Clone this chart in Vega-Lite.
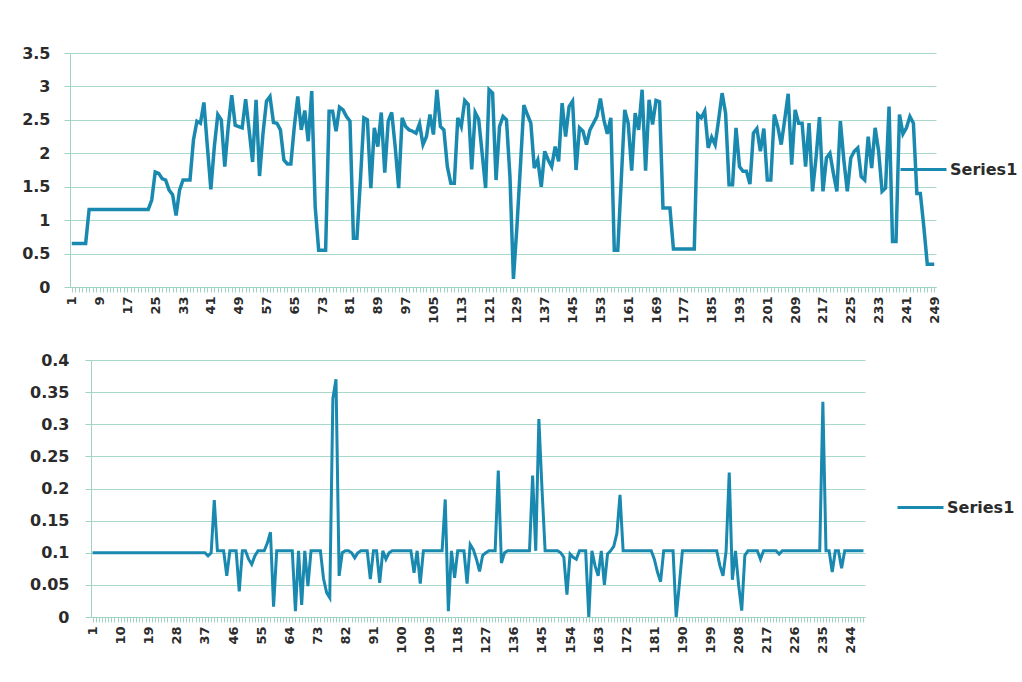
{
 "$schema": "https://vega.github.io/schema/vega-lite/v6.json",
 "background": "#ffffff",
 "padding": {"left": 21, "top": 45, "right": 5, "bottom": 5},
 "spacing": 28,
 "datasets": {
  "top": [
{"i":1,"v":0.65},{"i":2,"v":0.65},{"i":3,"v":0.65},{"i":4,"v":0.65},{"i":5,"v":0.65},
{"i":6,"v":1.16},{"i":7,"v":1.16},{"i":8,"v":1.16},{"i":9,"v":1.16},{"i":10,"v":1.16},{"i":11,"v":1.16},{"i":12,"v":1.16},{"i":13,"v":1.16},{"i":14,"v":1.16},{"i":15,"v":1.16},{"i":16,"v":1.16},{"i":17,"v":1.16},{"i":18,"v":1.16},{"i":19,"v":1.16},{"i":20,"v":1.16},{"i":21,"v":1.16},{"i":22,"v":1.16},{"i":23,"v":1.16},
{"i":24,"v":1.3},{"i":25,"v":1.72},{"i":26,"v":1.7},{"i":27,"v":1.62},{"i":28,"v":1.6},{"i":29,"v":1.45},{"i":30,"v":1.38},{"i":31,"v":1.07},{"i":32,"v":1.45},{"i":33,"v":1.6},{"i":34,"v":1.6},{"i":35,"v":1.6},{"i":36,"v":2.2},{"i":37,"v":2.48},{"i":38,"v":2.45},{"i":39,"v":2.76},{"i":40,"v":2.1},
{"i":41,"v":1.46},{"i":42,"v":2.1},{"i":43,"v":2.58},{"i":44,"v":2.5},{"i":45,"v":1.8},{"i":46,"v":2.4},{"i":47,"v":2.87},{"i":48,"v":2.42},{"i":49,"v":2.4},{"i":50,"v":2.38},
{"i":51,"v":2.81},{"i":52,"v":2.35},{"i":53,"v":1.87},{"i":54,"v":2.8},{"i":55,"v":1.66},{"i":56,"v":2.3},{"i":57,"v":2.78},{"i":58,"v":2.85},{"i":59,"v":2.46},{"i":60,"v":2.45},
{"i":61,"v":2.35},{"i":62,"v":1.9},{"i":63,"v":1.84},{"i":64,"v":1.84},{"i":65,"v":2.4},{"i":66,"v":2.85},{"i":67,"v":2.35},{"i":68,"v":2.64},{"i":69,"v":2.18},{"i":70,"v":2.93},
{"i":71,"v":1.2},{"i":72,"v":0.55},{"i":73,"v":0.55},{"i":74,"v":0.55},{"i":75,"v":2.63},{"i":76,"v":2.63},{"i":77,"v":2.33},{"i":78,"v":2.69},{"i":79,"v":2.65},{"i":80,"v":2.55},
{"i":81,"v":2.48},{"i":82,"v":0.73},{"i":83,"v":0.73},{"i":84,"v":1.6},{"i":85,"v":2.53},{"i":86,"v":2.5},{"i":87,"v":1.48},{"i":88,"v":2.38},{"i":89,"v":2.1},{"i":90,"v":2.61},
{"i":91,"v":1.71},{"i":92,"v":2.48},{"i":93,"v":2.61},{"i":94,"v":2.1},{"i":95,"v":1.48},{"i":96,"v":2.53},{"i":97,"v":2.4},{"i":98,"v":2.35},{"i":99,"v":2.33},{"i":100,"v":2.3},
{"i":101,"v":2.44},{"i":102,"v":2.13},{"i":103,"v":2.25},{"i":104,"v":2.58},{"i":105,"v":2.28},{"i":106,"v":2.95},{"i":107,"v":2.4},{"i":108,"v":2.35},{"i":109,"v":1.8},{"i":110,"v":1.55},
{"i":111,"v":1.55},{"i":112,"v":2.53},{"i":113,"v":2.4},{"i":114,"v":2.79},{"i":115,"v":2.73},{"i":116,"v":1.76},{"i":117,"v":2.61},{"i":118,"v":2.51},{"i":119,"v":2.0},{"i":120,"v":1.48},
{"i":121,"v":2.95},{"i":122,"v":2.9},{"i":123,"v":1.6},{"i":124,"v":2.4},{"i":125,"v":2.55},{"i":126,"v":2.5},{"i":127,"v":1.65},{"i":128,"v":0.12},{"i":129,"v":0.9},{"i":130,"v":1.8},
{"i":131,"v":2.72},{"i":132,"v":2.58},{"i":133,"v":2.45},{"i":134,"v":1.78},{"i":135,"v":1.9},{"i":136,"v":1.5},{"i":137,"v":2.03},{"i":138,"v":1.9},{"i":139,"v":1.8},{"i":140,"v":2.1},
{"i":141,"v":1.88},{"i":142,"v":2.75},{"i":143,"v":2.25},{"i":144,"v":2.7},{"i":145,"v":2.78},{"i":146,"v":1.75},{"i":147,"v":2.38},{"i":148,"v":2.33},{"i":149,"v":2.13},{"i":150,"v":2.35},
{"i":151,"v":2.45},{"i":152,"v":2.55},{"i":153,"v":2.82},{"i":154,"v":2.5},{"i":155,"v":2.29},{"i":156,"v":2.53},{"i":157,"v":0.55},{"i":158,"v":0.55},{"i":159,"v":1.6},{"i":160,"v":2.65},
{"i":161,"v":2.45},{"i":162,"v":1.74},{"i":163,"v":2.6},{"i":164,"v":2.35},{"i":165,"v":2.95},{"i":166,"v":1.74},{"i":167,"v":2.8},{"i":168,"v":2.43},{"i":169,"v":2.79},{"i":170,"v":2.77},
{"i":171,"v":1.18},{"i":172,"v":1.18},{"i":173,"v":1.18},{"i":174,"v":0.57},{"i":175,"v":0.57},{"i":176,"v":0.57},{"i":177,"v":0.57},{"i":178,"v":0.57},{"i":179,"v":0.57},{"i":180,"v":0.57},
{"i":181,"v":2.58},{"i":182,"v":2.53},{"i":183,"v":2.63},{"i":184,"v":2.08},{"i":185,"v":2.24},{"i":186,"v":2.13},{"i":187,"v":2.5},{"i":188,"v":2.9},{"i":189,"v":2.6},{"i":190,"v":1.53},
{"i":191,"v":1.53},{"i":192,"v":2.38},{"i":193,"v":1.8},{"i":194,"v":1.73},{"i":195,"v":1.73},{"i":196,"v":1.54},{"i":197,"v":2.3},{"i":198,"v":2.37},{"i":199,"v":2.03},{"i":200,"v":2.37},
{"i":201,"v":1.6},{"i":202,"v":1.6},{"i":203,"v":2.58},{"i":204,"v":2.4},{"i":205,"v":2.13},{"i":206,"v":2.5},{"i":207,"v":2.89},{"i":208,"v":1.83},{"i":209,"v":2.65},{"i":210,"v":2.45},
{"i":211,"v":2.45},{"i":212,"v":1.8},{"i":213,"v":2.45},{"i":214,"v":1.43},{"i":215,"v":1.93},{"i":216,"v":2.54},{"i":217,"v":1.43},{"i":218,"v":1.93},{"i":219,"v":2.0},{"i":220,"v":1.7},
{"i":221,"v":1.43},{"i":222,"v":2.48},{"i":223,"v":1.9},{"i":224,"v":1.43},{"i":225,"v":1.93},{"i":226,"v":2.03},{"i":227,"v":2.08},{"i":228,"v":1.65},{"i":229,"v":1.6},{"i":230,"v":2.25},
{"i":231,"v":1.78},{"i":232,"v":2.38},{"i":233,"v":2.03},{"i":234,"v":1.43},{"i":235,"v":1.48},{"i":236,"v":2.7},{"i":237,"v":0.68},{"i":238,"v":0.68},{"i":239,"v":2.58},{"i":240,"v":2.29},
{"i":241,"v":2.38},{"i":242,"v":2.55},{"i":243,"v":2.45},{"i":244,"v":1.4},{"i":245,"v":1.4},{"i":246,"v":0.9},{"i":247,"v":0.34},{"i":248,"v":0.34},{"i":249,"v":0.34}
  ],
  "bottom": [
{"i":1,"v":0.1},{"i":2,"v":0.1},{"i":3,"v":0.1},{"i":4,"v":0.1},{"i":5,"v":0.1},{"i":6,"v":0.1},{"i":7,"v":0.1},{"i":8,"v":0.1},{"i":9,"v":0.1},{"i":10,"v":0.1},
{"i":11,"v":0.1},{"i":12,"v":0.1},{"i":13,"v":0.1},{"i":14,"v":0.1},{"i":15,"v":0.1},{"i":16,"v":0.1},{"i":17,"v":0.1},{"i":18,"v":0.1},{"i":19,"v":0.1},{"i":20,"v":0.1},
{"i":21,"v":0.1},{"i":22,"v":0.1},{"i":23,"v":0.1},{"i":24,"v":0.1},{"i":25,"v":0.1},{"i":26,"v":0.1},{"i":27,"v":0.1},{"i":28,"v":0.1},{"i":29,"v":0.1},{"i":30,"v":0.1},
{"i":31,"v":0.1},{"i":32,"v":0.1},{"i":33,"v":0.1},{"i":34,"v":0.1},{"i":35,"v":0.1},{"i":36,"v":0.1},{"i":37,"v":0.1},{"i":38,"v":0.095},{"i":39,"v":0.1},{"i":40,"v":0.182},
{"i":41,"v":0.103},{"i":42,"v":0.103},{"i":43,"v":0.103},{"i":44,"v":0.064},{"i":45,"v":0.103},{"i":46,"v":0.103},{"i":47,"v":0.103},{"i":48,"v":0.04},{"i":49,"v":0.103},{"i":50,"v":0.103},
{"i":51,"v":0.09},{"i":52,"v":0.082},{"i":53,"v":0.095},{"i":54,"v":0.103},{"i":55,"v":0.103},{"i":56,"v":0.103},{"i":57,"v":0.115},{"i":58,"v":0.132},{"i":59,"v":0.016},{"i":60,"v":0.103},
{"i":61,"v":0.103},{"i":62,"v":0.103},{"i":63,"v":0.103},{"i":64,"v":0.103},{"i":65,"v":0.103},{"i":66,"v":0.009},{"i":67,"v":0.103},{"i":68,"v":0.019},{"i":69,"v":0.103},{"i":70,"v":0.048},
{"i":71,"v":0.103},{"i":72,"v":0.103},{"i":73,"v":0.103},{"i":74,"v":0.103},{"i":75,"v":0.06},{"i":76,"v":0.038},{"i":77,"v":0.03},{"i":78,"v":0.34},{"i":79,"v":0.37},{"i":80,"v":0.064},
{"i":81,"v":0.1},{"i":82,"v":0.103},{"i":83,"v":0.103},{"i":84,"v":0.1},{"i":85,"v":0.092},{"i":86,"v":0.1},{"i":87,"v":0.103},{"i":88,"v":0.103},{"i":89,"v":0.103},{"i":90,"v":0.059},
{"i":91,"v":0.103},{"i":92,"v":0.103},{"i":93,"v":0.053},{"i":94,"v":0.103},{"i":95,"v":0.09},{"i":96,"v":0.1},{"i":97,"v":0.103},{"i":98,"v":0.103},{"i":99,"v":0.103},{"i":100,"v":0.103},
{"i":101,"v":0.103},{"i":102,"v":0.103},{"i":103,"v":0.103},{"i":104,"v":0.069},{"i":105,"v":0.103},{"i":106,"v":0.052},{"i":107,"v":0.103},{"i":108,"v":0.103},{"i":109,"v":0.103},{"i":110,"v":0.103},
{"i":111,"v":0.103},{"i":112,"v":0.103},{"i":113,"v":0.103},{"i":114,"v":0.183},{"i":115,"v":0.009},{"i":116,"v":0.103},{"i":117,"v":0.061},{"i":118,"v":0.103},{"i":119,"v":0.103},{"i":120,"v":0.103},
{"i":121,"v":0.052},{"i":122,"v":0.113},{"i":123,"v":0.105},{"i":124,"v":0.09},{"i":125,"v":0.071},{"i":126,"v":0.096},{"i":127,"v":0.1},{"i":128,"v":0.103},{"i":129,"v":0.103},{"i":130,"v":0.103},
{"i":131,"v":0.228},{"i":132,"v":0.084},{"i":133,"v":0.1},{"i":134,"v":0.103},{"i":135,"v":0.103},{"i":136,"v":0.103},{"i":137,"v":0.103},{"i":138,"v":0.103},{"i":139,"v":0.103},{"i":140,"v":0.103},
{"i":141,"v":0.103},{"i":142,"v":0.22},{"i":143,"v":0.103},{"i":144,"v":0.308},{"i":145,"v":0.2},{"i":146,"v":0.103},{"i":147,"v":0.103},{"i":148,"v":0.103},{"i":149,"v":0.103},{"i":150,"v":0.103},
{"i":151,"v":0.1},{"i":152,"v":0.093},{"i":153,"v":0.035},{"i":154,"v":0.098},{"i":155,"v":0.093},{"i":156,"v":0.09},{"i":157,"v":0.103},{"i":158,"v":0.103},{"i":159,"v":0.103},{"i":160,"v":0.0},
{"i":161,"v":0.103},{"i":162,"v":0.08},{"i":163,"v":0.064},{"i":164,"v":0.103},{"i":165,"v":0.05},{"i":166,"v":0.098},{"i":167,"v":0.103},{"i":168,"v":0.11},{"i":169,"v":0.13},{"i":170,"v":0.19},
{"i":171,"v":0.103},{"i":172,"v":0.103},{"i":173,"v":0.103},{"i":174,"v":0.103},{"i":175,"v":0.103},{"i":176,"v":0.103},{"i":177,"v":0.103},{"i":178,"v":0.103},{"i":179,"v":0.103},{"i":180,"v":0.103},
{"i":181,"v":0.09},{"i":182,"v":0.07},{"i":183,"v":0.055},{"i":184,"v":0.103},{"i":185,"v":0.103},{"i":186,"v":0.103},{"i":187,"v":0.103},{"i":188,"v":0.0},{"i":189,"v":0.05},{"i":190,"v":0.103},
{"i":191,"v":0.103},{"i":192,"v":0.103},{"i":193,"v":0.103},{"i":194,"v":0.103},{"i":195,"v":0.103},{"i":196,"v":0.103},{"i":197,"v":0.103},{"i":198,"v":0.103},{"i":199,"v":0.103},{"i":200,"v":0.103},
{"i":201,"v":0.103},{"i":202,"v":0.08},{"i":203,"v":0.064},{"i":204,"v":0.103},{"i":205,"v":0.225},{"i":206,"v":0.058},{"i":207,"v":0.103},{"i":208,"v":0.05},{"i":209,"v":0.01},{"i":210,"v":0.096},
{"i":211,"v":0.103},{"i":212,"v":0.103},{"i":213,"v":0.103},{"i":214,"v":0.103},{"i":215,"v":0.09},{"i":216,"v":0.103},{"i":217,"v":0.103},{"i":218,"v":0.103},{"i":219,"v":0.103},{"i":220,"v":0.103},
{"i":221,"v":0.098},{"i":222,"v":0.103},{"i":223,"v":0.103},{"i":224,"v":0.103},{"i":225,"v":0.103},{"i":226,"v":0.103},{"i":227,"v":0.103},{"i":228,"v":0.103},{"i":229,"v":0.103},{"i":230,"v":0.103},
{"i":231,"v":0.103},{"i":232,"v":0.103},{"i":233,"v":0.103},{"i":234,"v":0.103},{"i":235,"v":0.335},{"i":236,"v":0.103},{"i":237,"v":0.103},{"i":238,"v":0.07},{"i":239,"v":0.103},{"i":240,"v":0.103},
{"i":241,"v":0.076},{"i":242,"v":0.103},{"i":243,"v":0.103},{"i":244,"v":0.103},{"i":245,"v":0.103},{"i":246,"v":0.103},{"i":247,"v":0.103},{"i":248,"v":0.103}
  ]
 },
 "config": {
  "view": {"stroke": null},
  "font": "DejaVu Sans",
  "axis": {
   "title": null,
   "labelFont": "DejaVu Sans",
   "labelFontWeight": "bold",
   "labelColor": "#2b2b2b",
   "domainColor": "#9fd3c3",
   "tickColor": "#9fd3c3",
   "gridColor": "#a9d9cb",
   "gridWidth": 1.2
  },
  "legend": {
   "title": null,
   "orient": "none",
   "symbolType": "stroke",
   "labelFont": "DejaVu Sans",
   "labelFontSize": 16,
   "labelFontWeight": "bold",
   "labelColor": "#2b2b2b",
   "labelOffset": 2
  }
 },
 "resolve": {"scale": {"color": "independent"}, "legend": {"color": "independent"}},
 "vconcat": [
  {
   "width": 866,
   "height": 234,
   "data": {"name": "top"},
   "mark": {"type": "line", "strokeWidth": 3.5},
   "encoding": {
    "x": {
     "field": "i", "type": "ordinal",
     "scale": {"type": "point", "padding": 0.5},
     "axis": {"labelAngle": -90, "labelOverlap": false, "grid": false, "tickSize": 5, "labelPadding": 4, "labelFontSize": 13,
              "labelExpr": "(datum.value - 1) % 8 === 0 ? datum.label : ''"}
    },
    "y": {
     "field": "v", "type": "quantitative",
     "scale": {"domain": [0, 3.5], "nice": false},
     "axis": {"values": [0, 0.5, 1, 1.5, 2, 2.5, 3, 3.5], "format": ".1~f", "tickSize": 6, "labelPadding": 14, "labelFontSize": 16, "minExtent": 47, "grid": true}
    },
    "color": {
     "datum": "Series1",
     "scale": {"range": ["#1a89b0"]},
     "legend": {"legendX": 829, "legendY": 92, "symbolSize": 2116, "symbolStrokeWidth": 3}
    }
   }
  },
  {
   "width": 795,
   "height": 257,
   "data": {"name": "bottom"},
   "mark": {"type": "line", "strokeWidth": 3},
   "encoding": {
    "x": {
     "field": "i", "type": "ordinal",
     "scale": {"type": "point", "padding": 0.5, "range": [21, 795]},
     "axis": {"labelAngle": -90, "labelOverlap": false, "grid": false, "tickSize": 5, "labelPadding": 4, "labelFontSize": 13,
              "labelExpr": "(datum.value - 1) % 9 === 0 ? datum.label : ''"}
    },
    "y": {
     "field": "v", "type": "quantitative",
     "scale": {"domain": [0, 0.4], "nice": false},
     "axis": {"values": [0, 0.05, 0.1, 0.15, 0.2, 0.25, 0.3, 0.35, 0.4], "format": ".2~f", "tickSize": 6, "labelPadding": 16, "labelFontSize": 16, "offset": -21, "grid": true}
    },
    "color": {
     "datum": "Series1",
     "scale": {"range": ["#1a89b0"]},
     "legend": {"legendX": 826, "legendY": 123, "symbolSize": 2116, "symbolStrokeWidth": 3}
    }
   }
  }
 ]
}
